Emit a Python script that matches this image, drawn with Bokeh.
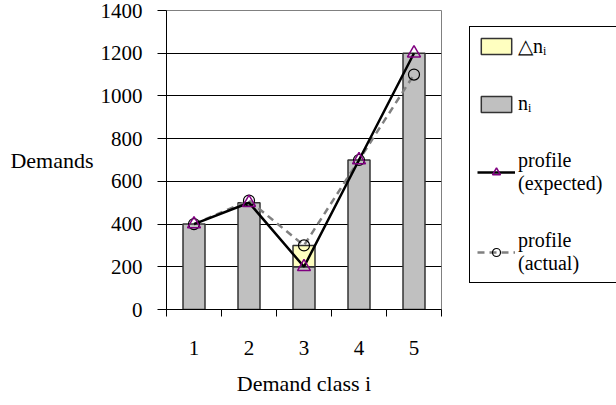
from bokeh.plotting import figure
from bokeh.layouts import row
from bokeh.models import FixedTicker, Legend, LegendItem, Range1d, ColumnDataSource
from bokeh.embed import file_html
from bokeh.resources import INLINE

# ---- data ----
classes = [1, 2, 3, 4, 5]
n_i = [400, 500, 200, 700, 1200]
delta_n = [0, 0, 100, 0, 0]
expected = [400, 500, 200, 700, 1200]
actual = [400, 510, 300, 700, 1100]
y_ticks = [0, 200, 400, 600, 800, 1000, 1200, 1400]
legend_labels = ["\u25b3n\u1d62", "n\u1d62", "profile\n(expected)", "profile\n(actual)"]

FONT = "Liberation Serif"
GRAY_BAR = "#C0C0C0"
YELLOW = "#FFFFC0"
EDGE = "#333333"
PURPLE = "#800080"

p = figure(width=442, height=405, output_backend="svg", toolbar_location=None,
           x_range=Range1d(0.5, 5.5), y_range=Range1d(0, 1400),
           min_border_left=166, min_border_right=1, min_border_top=10,
           min_border_bottom=96, background_fill_color="white",
           border_fill_color="white", outline_line_color="#808080")

# data sources
src_n = ColumnDataSource(dict(x=classes, top=n_i))
dx = [c for c, d in zip(classes, delta_n) if d > 0]
db = [n for n, d in zip(n_i, delta_n) if d > 0]
dt = [n + d for n, d in zip(n_i, delta_n) if d > 0]
src_d = ColumnDataSource(dict(x=dx, bottom=db, top=dt))
src_p = ColumnDataSource(dict(x=classes, expected=expected, actual=actual))

BN = dict(fill_color=GRAY_BAR, line_color=EDGE, line_width=1.5)
BD = dict(fill_color=YELLOW, line_color=EDGE, line_width=1.5)
AL = dict(line_color="#808080", line_width=2.5, line_dash="7 5")
EL = dict(line_color="black", line_width=2.5)
AM = dict(marker="circle", fill_color=None, line_color="black", line_width=1.2)
EM = dict(marker="triangle", fill_color=None, line_color=PURPLE, line_width=1.5)

# bars
p.vbar(x="x", top="top", bottom=0, width=0.4, source=src_n, **BN)
p.vbar(x="x", top="top", bottom="bottom", width=0.4, source=src_d, **BD)

# profiles
p.line("x", "actual", source=src_p, **AL)
p.line("x", "expected", source=src_p, **EL)
p.scatter("x", "actual", source=src_p, size=11, **AM)
p.scatter("x", "expected", source=src_p, size=13, **EM)

# axes
p.xgrid.visible = False
p.ygrid.grid_line_color = "black"
p.ygrid.grid_line_width = 1
p.ygrid.ticker = FixedTicker(ticks=y_ticks)

p.yaxis.ticker = FixedTicker(ticks=y_ticks)
p.yaxis.axis_label = "Demands"
p.yaxis.axis_label_orientation = "horizontal"
p.yaxis.axis_label_text_font = FONT
p.yaxis.axis_label_text_font_style = "normal"
p.yaxis.axis_label_text_font_size = "22px"
p.yaxis.axis_label_standoff = 4
p.yaxis.major_label_text_font = FONT
p.yaxis.major_label_text_font_size = "21px"
p.yaxis.major_tick_out = 9
p.yaxis.major_tick_in = 0
p.yaxis.minor_tick_line_color = None
p.yaxis.major_label_standoff = 15

p.xaxis.ticker = FixedTicker(ticks=classes, minor_ticks=[0.5, 1.5, 2.5, 3.5, 4.5, 5.5])
p.xaxis.axis_label = "Demand class i"
p.xaxis.axis_label_text_font = FONT
p.xaxis.axis_label_text_font_style = "normal"
p.xaxis.axis_label_text_font_size = "22px"
p.xaxis.axis_label_standoff = 13
p.xaxis.major_label_text_font = FONT
p.xaxis.major_label_text_font_size = "21px"
p.xaxis.major_tick_out = 0
p.xaxis.major_tick_in = 0
p.xaxis.minor_tick_out = 7
p.xaxis.minor_tick_in = 0
p.xaxis.minor_tick_line_color = "black"
p.xaxis.major_label_standoff = 24

for ax in (p.xaxis, p.yaxis):
    ax.axis_line_color = "black"
    ax.major_label_text_color = "black"
    ax.axis_label_text_color = "black"
p.yaxis.major_tick_line_color = "black"
p.xaxis.major_tick_line_color = None

# ---- legend panel (separate figure holding only the legend) ----
q = figure(width=174, height=405, output_backend="svg", toolbar_location=None,
           x_axis_location=None, y_axis_location=None, min_border=0,
           outline_line_color=None, background_fill_color="white",
           border_fill_color="white")
q.grid.visible = False
# hidden renderers sharing the chart's data: they only provide legend glyphs
g_d = q.vbar(x="x", top="top", bottom="bottom", width=0.4, source=src_d, visible=False, **BD)
g_n = q.vbar(x="x", top="top", bottom=0, width=0.4, source=src_n, visible=False, **BN)
g_el = q.line("x", "expected", source=src_p, visible=False, **EL)
g_em = q.scatter("x", "expected", source=src_p, visible=False, **EM)
g_al = q.line("x", "actual", source=src_p, visible=False, **AL)
g_am = q.scatter("x", "actual", source=src_p, visible=False, **AM)

legend = Legend(items=[
    LegendItem(label=legend_labels[0], renderers=[g_d]),
    LegendItem(label=legend_labels[1], renderers=[g_n]),
    LegendItem(label=legend_labels[2], renderers=[g_el, g_em]),
    LegendItem(label=legend_labels[3], renderers=[g_al, g_am]),
], location=(27, 26))
legend.margin = 0
legend.inactive_fill_alpha = 0
legend.label_text_font = FONT
legend.label_text_font_size = "20px"
legend.label_text_line_height = 1.12
legend.label_text_color = "black"
legend.label_height = 22
legend.label_width = 100
legend.glyph_width = 38
legend.glyph_height = 20
legend.label_standoff = 3
legend.spacing = 34
legend.padding = 7
legend.border_line_color = "black"
legend.border_line_alpha = 1
legend.border_line_width = 1
legend.background_fill_color = "white"
legend.background_fill_alpha = 1
q.add_layout(legend)

layout = row(p, q)
open("out.html", "w").write(file_html(layout, INLINE))
